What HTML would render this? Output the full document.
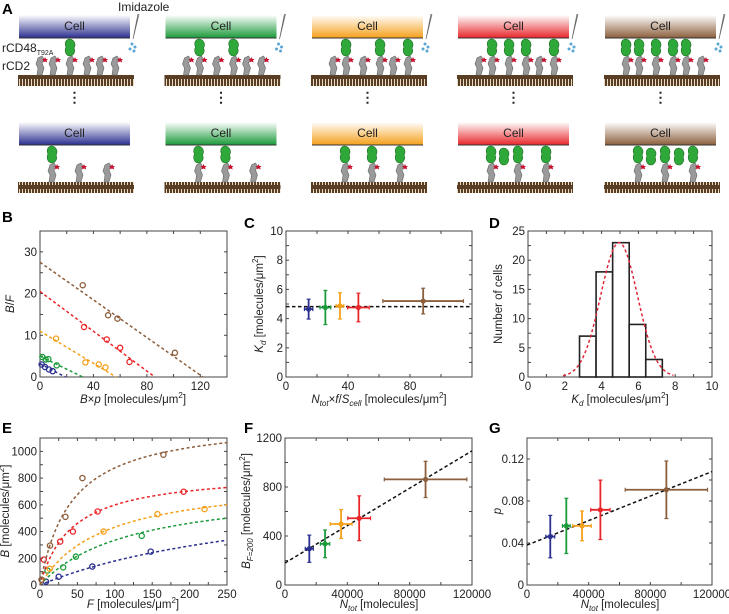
<!DOCTYPE html>
<html><head><meta charset="utf-8"><style>
html,body{margin:0;padding:0;background:#fff;}
svg{display:block;font-family:"Liberation Sans",Arial,sans-serif;}
</style></head><body>
<svg id="fig" width="729" height="614" viewBox="0 0 729 614" xmlns="http://www.w3.org/2000/svg">
<defs>
<pattern id="hatch" width="3" height="11" patternUnits="userSpaceOnUse">
<rect width="3" height="11" fill="#5a3e24"/>
<line x1="1.5" y1="2" x2="1.5" y2="9" stroke="#e8dcc8" stroke-width="1"/>
</pattern>
</defs>
<g id="panelA"></g>
<g id="panelB"></g>
<g id="panelC"></g>
<g id="panelD"></g>
<g id="panelE"></g>
<g id="panelF"></g>
<g id="panelG"></g>
</svg>
<script>
// ---------- DATA ----------
const seriesNames = ["blue","green","orange","red","brown"];
const seriesColors = ["#2b2f8f","#1a9a3a","#f5a01a","#e8262a","#8b5e3c"];
// Panel B: Scatchard points and fit lines
const bX = [[1.25,3.75,6.75,9.5],[1.75,4.25,6.25,12.5],[12,34,44,49],[33,50,60,67],[32,51,58,101]];
const bY = [[3.0,2.4,1.8,1.4],[4.8,4.2,4.3,2.8],[9.2,3.5,3.0,2.3],[12,9,7,3.6],[22,14.8,14,5.8]];
const bIntercept = [3.2,5.0,11.0,20.5,27.5];
const bXIntercept = [19,32,57,86,122];
// Panel C
const cX = [14.6,25.4,34.8,46.7,88.5];
const cXerr = [2.7,3.5,2.5,7,26];
const cY = [4.65,4.76,4.87,4.76,5.2];
const cYerr = [0.68,1.17,0.9,0.98,0.88];
const cMean = [4.82];
// Panel D
const dEdges = [2.8,3.7,4.6,5.5,6.4,7.3];
const dCounts = [7,18,23,9,3];
const dFit = [23,4.95,1.0]; // amplitude, mean, sigma
// Panel E
const eF = [[8,25,70,148],[10,31,48,136],[13,85,157,220],[5,27,44,77,192],[2,13.4,34,56.7,165]];
const eB = [[25,62,138,250],[108,132,212,368],[122,400,530,568],[190,325,400,550,698],[40,295,510,800,975]];
const eBmax = [790,744,808,854,1244];
const eK = [340,122,86.7,42.6,42];
// Panel F
const fX = [15600,25700,36000,47600,90200];
const fXerr = [2600,3000,7000,7300,26500];
const fY = [296,336,498,545,862];
const fYerr = [111,113,118,183,148];
const fLine = [180,1095];
// Panel G
const gX = [15100,25500,35700,47600,90400];
const gXerr = [2900,2500,6000,6300,26700];
const gY = [0.0461,0.0563,0.0563,0.0716,0.0907];
const gYerr = [0.0202,0.0263,0.0142,0.0283,0.0274];
const gLine = [0.038,0.108];
// Panel A: number of bound rCD48 per column
const aTopBound = [[2],[1,3],[1,3,5],[1,2,3,5],[0,1,2,3,4]];
const aBotBound = [1,2,3,3,3];
const aBotFree = [0,0,0,1,2];

// ---------- HELPERS ----------
const NS="http://www.w3.org/2000/svg";
function el(tag,attrs,parent){const e=document.createElementNS(NS,tag);for(const k in attrs)e.setAttribute(k,attrs[k]);if(parent)parent.appendChild(e);return e;}
function txt(parent,x,y,s,size,anchor,extra){const t=el('text',Object.assign({x:x,y:y,'font-size':size,'text-anchor':anchor||'start',fill:'#222'},extra||{}),parent);t.innerHTML=s;return t;}
function scale(d0,d1,r0,r1){return v=>r0+(v-d0)/(d1-d0)*(r1-r0);}
function axes(g,box,xd,yd,xt,xl,yt,yl,fmt){
  const sx=scale(xd[0],xd[1],box.x0,box.x1), sy=scale(yd[0],yd[1],box.y1,box.y0);
  const frame=el('rect',{x:box.x0,y:box.y0,width:box.x1-box.x0,height:box.y1-box.y0,fill:'none',stroke:'#444','stroke-width':1},g);
  
  
  const xa=el('g',{},g);
  
  
  xt.forEach(v=>{const x=sx(v);el('line',{x1:x,y1:box.y1,x2:x,y2:box.y1-3,stroke:'#444'},xa);el('line',{x1:x,y1:box.y0,x2:x,y2:box.y0+3,stroke:'#444'},xa);});
  xl.forEach(v=>{const t=txt(xa,sx(v),box.y1+13,fmt?fmt.x(v):String(v),11.5,'middle');});
  const ya=el('g',{},g);
  
  
  yt.forEach(v=>{const y=sy(v);el('line',{x1:box.x0,y1:y,x2:box.x0+3,y2:y,stroke:'#444'},ya);el('line',{x1:box.x1,y1:y,x2:box.x1-3,y2:y,stroke:'#444'},ya);});
  yl.forEach(v=>{const t=txt(ya,box.x0-3,sy(v)+4,fmt?fmt.y(v):String(v),11.5,'end');});
  return {sx,sy};
}
function range(a,b,s){const r=[];for(let v=a;v<=b+1e-9;v+=s)r.push(+v.toFixed(6));return r;}
function panelLetter(g,x,y,s){const t=txt(g,x,y,s,15,'start',{'font-weight':'bold',fill:'#000'});}
function xTitle(g,x,y,html){const t=txt(g,x,y,html,11.5,'middle');}
function yTitle(g,x,y,html){const t=txt(g,x,y,html,11.5,'middle',{transform:`rotate(-90 ${x} ${y})`});}
function errPoint(g,sx,sy,x,xe,y,ye,col,name){
  const p=el('g',{},g);
  
  
  const X=sx(x),Y=sy(y),xa=sx(x-xe),xb=sx(x+xe),ya=sy(y-ye),yb=sy(y+ye);
  el('line',{x1:xa,y1:Y,x2:xb,y2:Y,stroke:col,'stroke-width':1.8},p);
  el('line',{x1:X,y1:ya,x2:X,y2:yb,stroke:col,'stroke-width':1.8},p);
  el('line',{x1:xa,y1:Y-2,x2:xa,y2:Y+2,stroke:col,'stroke-width':1.2},p);
  el('line',{x1:xb,y1:Y-2,x2:xb,y2:Y+2,stroke:col,'stroke-width':1.2},p);
  el('line',{x1:X-2,y1:ya,x2:X+2,y2:ya,stroke:col,'stroke-width':1.2},p);
  el('line',{x1:X-2,y1:yb,x2:X+2,y2:yb,stroke:col,'stroke-width':1.2},p);
  el('circle',{cx:X,cy:Y,r:2.6,fill:col},p);
}
const mu='μm<tspan dy="-5" font-size="8">2</tspan><tspan dy="5">]</tspan>';

// ---------- PANEL A ----------
(function(){
  const g=document.getElementById('panelA');
  panelLetter(g,2,14,'A');
  const grads=el('defs',{},g);
  const lefts=[19,165.5,312,458,605];
  const W=111;
  seriesColors.forEach((c,i)=>{
    const lg=el('linearGradient',{id:'cg'+i,x1:0,y1:0,x2:0,y2:1},grads);
    el('stop',{offset:'0','stop-color':'#ffffff'},lg);
    el('stop',{offset:'1','stop-color':c},lg);
  });
  const rcd2=(p,x,base)=>{
    const m=el('g',{},p);
    
    
    el('path',{d:`M${x-3},${base} L${x-2},${base-7} L${x-4},${base-11} L${x-2},${base-17} L${x+2},${base-19} L${x+4},${base-16} L${x+2},${base-12} L${x+4},${base-7} L${x+2},${base} Z`,fill:'#9a9a9a',stroke:'#666','stroke-width':0.6},m);
    el('path',{d:`M${x+5},${base-18} l1,2 2,0 -1.5,1.5 .7,2 -2.2,-1 -2,1 .6,-2 -1.6,-1.5 2.2,0 Z`,fill:'#c8102e'},m);
  };
  const rcd48=(p,x,top)=>{
    const m=el('g',{},p);
    
    
    el('path',{d:`M${x},${top} C${x+5},${top+1} ${x+6},${top+6} ${x+4},${top+9} C${x+6},${top+13} ${x+3},${top+17} ${x},${top+17} C${x-4},${top+17} ${x-6},${top+12} ${x-4},${top+8} C${x-6},${top+4} ${x-4},${top} ${x},${top} Z`,fill:'#2fa83a',stroke:'#1d6b23','stroke-width':0.6},m);
  };
  const topRel=[21,34,51,68,81,96];
  const botRel=[33,60,88];
  lefts.forEach((L,i)=>{
    const col=el('g',{},g);
    
    
    [[15,75],[122,182]].forEach(([cy,ry],row)=>{
      const b=el('rect',{x:L,y:cy,width:W,height:23,fill:`url(#cg${i})`},col);
      
      
      el('line',{x1:L,y1:cy+23,x2:L+W,y2:cy+23,stroke:'#333','stroke-width':1},col);
      const t=txt(col,L+W/2,cy+15,'Cell',12,'middle');
      
      
      const r=el('rect',{x:L-1,y:ry,width:W+5,height:11,fill:'url(#hatch)'},col);
      
      
      if(row===0){
        topRel.forEach((rx,k)=>{
          rcd2(col,L+rx,ry);
          if(aTopBound[i].includes(k)) rcd48(col,L+rx,cy+24);
        });
        const pip=el('g',{},col);
        
        
        el('path',{d:`M${L+W+8},14 L${L+W+3},39 L${L+W+9},14`,fill:'#eee',stroke:'#666','stroke-width':0.7},pip);
        [[0,44],[3,47],[-2,49],[2,51]].forEach(([dx,dy])=>el('circle',{cx:L+W+2+dx,cy:dy,r:1.5,fill:'#5aa7d6'},pip));
        const d=txt(col,L+W/2,102,'⋮',14,'middle',{'font-weight':'bold'});
        
        
      } else {
        botRel.forEach((rx,k)=>{
          rcd2(col,L+rx,ry);
          if(k<aBotBound[i]) rcd48(col,L+rx,cy+24);
        });
        for(let k=0;k<aBotFree[i];k++) rcd48(col,L+46+k*28,cy+26);
      }
    });
  });
  const t1=txt(g,118,11,'Imidazole',12,'start');
  const t2=txt(g,2,52,'rCD48<tspan font-size="7" dy="3">T92A</tspan>',12,'start');
  const t3=txt(g,2,70,'rCD2',12,'start');
})();

// ---------- PANEL B ----------
(function(){
  const g=document.getElementById('panelB');
  panelLetter(g,2,222,'B');
  const box={x0:40,x1:227,y0:231,y1:377};
  const {sx,sy}=axes(g,box,[0,140],[0,35],range(0,140,20),[0,40,80,120],range(0,35,5),[0,10,20,30]);
  seriesColors.forEach((c,i)=>{
    const s=el('g',{},g);
    
    
    el('line',{x1:sx(0),y1:sy(bIntercept[i]),x2:sx(bXIntercept[i]),y2:sy(0),stroke:c,'stroke-width':1.5,'stroke-dasharray':'3,2.5'},s);
    bX[i].forEach((x,k)=>el('circle',{cx:sx(x),cy:sy(bY[i][k]),r:2.6,fill:'none',stroke:c,'stroke-width':1.3},s));
  });
  yTitle(g,14,304,'<tspan font-style="italic">B</tspan>/<tspan font-style="italic">F</tspan>');
  xTitle(g,133,403,'<tspan font-style="italic">B</tspan>×<tspan font-style="italic">p</tspan> [molecules/'+mu);
})();

// ---------- PANEL C ----------
(function(){
  const g=document.getElementById('panelC');
  panelLetter(g,244,228,'C');
  const box={x0:286,x1:472,y0:231,y1:377};
  const {sx,sy}=axes(g,box,[0,120],[0,10],range(0,120,20),[0,40,80],range(0,10,1),[0,2,4,6,8,10]);
  const m=el('line',{x1:box.x0,y1:sy(cMean[0]),x2:box.x1,y2:sy(cMean[0]),stroke:'#111','stroke-width':1.5,'stroke-dasharray':'3.5,2.5'},g);
  
  
  seriesColors.forEach((c,i)=>errPoint(g,sx,sy,cX[i],cXerr[i],cY[i],cYerr[i],c,'point-'+seriesNames[i]));
  yTitle(g,263,304,'<tspan font-style="italic">K</tspan><tspan font-size="8" dy="3" font-style="italic">d</tspan><tspan dy="-3"> [molecules/</tspan>'+mu);
  xTitle(g,379,403,'<tspan font-style="italic">N</tspan><tspan font-size="8" dy="3" font-style="italic">tot</tspan><tspan dy="-3">×</tspan><tspan font-style="italic">f</tspan>/<tspan font-style="italic">S</tspan><tspan font-size="8" dy="3" font-style="italic">cell</tspan><tspan dy="-3"> [molecules/</tspan>'+mu);
})();

// ---------- PANEL D ----------
(function(){
  const g=document.getElementById('panelD');
  panelLetter(g,489,228,'D');
  const box={x0:528,x1:712,y0:231,y1:377};
  const {sx,sy}=axes(g,box,[0,10],[0,25],range(0,10,1),[0,2,4,6,8,10],range(0,25,2.5),[0,5,10,15,20,25]);
  dCounts.forEach((n,i)=>{
    const r=el('rect',{x:sx(dEdges[i]),y:sy(n),width:sx(dEdges[i+1])-sx(dEdges[i]),height:sy(0)-sy(n),fill:'#fff',stroke:'#222','stroke-width':1.6},g);
    
    
  });
  let d='';
  for(let x=1.9;x<=7.9;x+=0.05){const y=dFit[0]*Math.exp(-Math.pow(x-dFit[1],2)/(2*dFit[2]*dFit[2]));d+=(d?'L':'M')+sx(x).toFixed(1)+','+sy(y).toFixed(1);}
  const p=el('path',{d:d,fill:'none',stroke:'#e0263a','stroke-width':1.5,'stroke-dasharray':'3,2.5'},g);
  
  
  yTitle(g,502,304,'Number of cells');
  xTitle(g,620,403,'<tspan font-style="italic">K</tspan><tspan font-size="8" dy="3" font-style="italic">d</tspan><tspan dy="-3"> [molecules/</tspan>'+mu);
})();

// ---------- PANEL E ----------
(function(){
  const g=document.getElementById('panelE');
  panelLetter(g,2,433,'E');
  const box={x0:40,x1:227,y0:438,y1:585};
  const {sx,sy}=axes(g,box,[0,250],[0,1100],range(0,250,25),[0,50,100,150,200,250],range(0,1100,100),[0,200,400,600,800,1000]);
  seriesColors.forEach((c,i)=>{
    const s=el('g',{},g);
    
    
    let d='';
    for(let f=0;f<=250;f+=2){const b=eBmax[i]*f/(eK[i]+f);d+=(d?'L':'M')+sx(f).toFixed(1)+','+sy(b).toFixed(1);}
    el('path',{d:d,fill:'none',stroke:c,'stroke-width':1.5,'stroke-dasharray':'3,2.5'},s);
    eF[i].forEach((f,k)=>el('circle',{cx:sx(f),cy:sy(eB[i][k]),r:2.6,fill:'none',stroke:c,'stroke-width':1.3},s));
  });
  yTitle(g,9,511,'<tspan font-style="italic">B</tspan> [molecules/'+mu);
  xTitle(g,133,608,'<tspan font-style="italic">F</tspan> [molecules/'+mu);
})();

// ---------- PANEL F ----------
(function(){
  const g=document.getElementById('panelF');
  panelLetter(g,244,433,'F');
  const box={x0:285,x1:472,y0:438,y1:585};
  const {sx,sy}=axes(g,box,[0,120000],[0,1200],range(0,120000,20000),[0,40000,80000,120000],range(0,1200,200),[0,400,800,1200]);
  const l=el('line',{x1:sx(0),y1:sy(fLine[0]),x2:sx(120000),y2:sy(fLine[1]),stroke:'#111','stroke-width':1.5,'stroke-dasharray':'3.5,2.5'},g);
  
  
  seriesColors.forEach((c,i)=>errPoint(g,sx,sy,fX[i],fXerr[i],fY[i],fYerr[i],c,'point-'+seriesNames[i]));
  yTitle(g,250,511,'<tspan font-style="italic">B</tspan><tspan font-size="8" dy="3" font-style="italic">F=200</tspan><tspan dy="-3"> [molecules/</tspan>'+mu);
  xTitle(g,379,608,'<tspan font-style="italic">N</tspan><tspan font-size="8" dy="3" font-style="italic">tot</tspan><tspan dy="-3"> [molecules]</tspan>');
})();

// ---------- PANEL G ----------
(function(){
  const g=document.getElementById('panelG');
  panelLetter(g,489,433,'G');
  const box={x0:527,x1:712,y0:438,y1:585};
  const {sx,sy}=axes(g,box,[0,120000],[0,0.14],range(0,120000,20000),[0,40000,80000,120000],range(0,0.14,0.02),[0,0.04,0.08,0.12],{x:v=>String(v),y:v=>v===0?'0':v.toFixed(2)});
  const l=el('line',{x1:sx(0),y1:sy(gLine[0]),x2:sx(120000),y2:sy(gLine[1]),stroke:'#111','stroke-width':1.5,'stroke-dasharray':'3.5,2.5'},g);
  
  
  seriesColors.forEach((c,i)=>errPoint(g,sx,sy,gX[i],gXerr[i],gY[i],gYerr[i],c,'point-'+seriesNames[i]));
  yTitle(g,501,511,'<tspan font-style="italic">p</tspan>');
  xTitle(g,620,608,'<tspan font-style="italic">N</tspan><tspan font-size="8" dy="3" font-style="italic">tot</tspan><tspan dy="-3"> [molecules]</tspan>');
})();
</script>
</body></html>
